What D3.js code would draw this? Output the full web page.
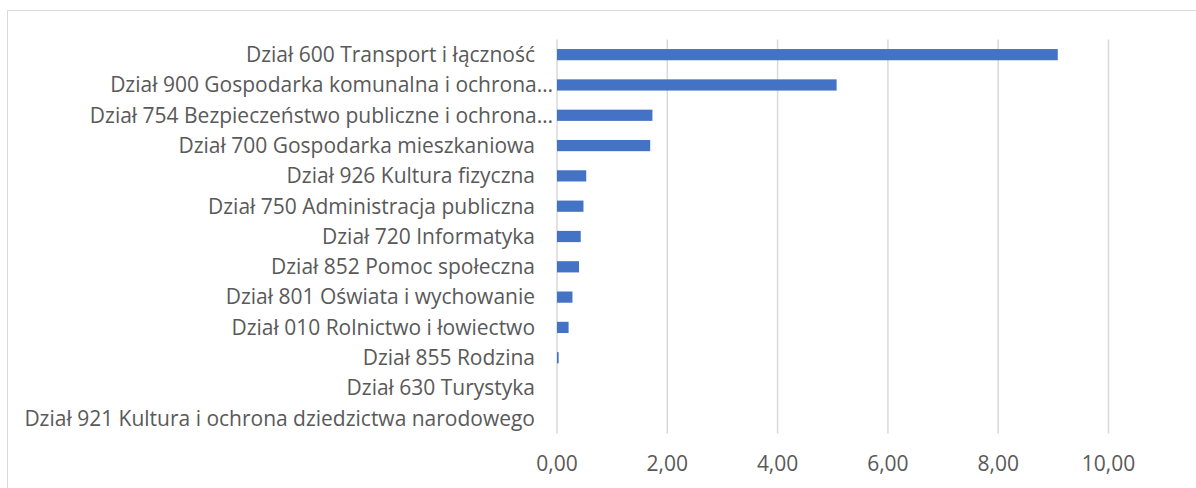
<!DOCTYPE html>
<html lang="pl">
<head>
    <meta charset="UTF-8">
    <title>Wydatki wg działów</title>
    <script src="https://d3js.org/d3.v7.min.js"></script>
    <style>
        body { margin: 0; background: #fff; }
        svg text { font-family: "Open Sans", "Noto Sans", sans-serif; fill: #595959; }
    </style>
</head>
<body>
    <div id="chart"></div>
    <script>
        // categories top -> bottom
        const categories = [
            "Dział 600 Transport i łączność",
            "Dział 900 Gospodarka komunalna i ochrona…",
            "Dział 754 Bezpieczeństwo publiczne i ochrona…",
            "Dział 700 Gospodarka mieszkaniowa",
            "Dział 926 Kultura fizyczna",
            "Dział 750 Administracja publiczna",
            "Dział 720 Informatyka",
            "Dział 852 Pomoc społeczna",
            "Dział 801 Oświata i wychowanie",
            "Dział 010 Rolnictwo i łowiectwo",
            "Dział 855 Rodzina",
            "Dział 630 Turystyka",
            "Dział 921 Kultura i ochrona dziedzictwa narodowego"
        ];
        const values = [9.08, 5.07, 1.73, 1.69, 0.53, 0.48, 0.43, 0.40, 0.28, 0.21, 0.03, 0, 0];
        const ticks = [0, 2, 4, 6, 8, 10];

        const W = 1196, H = 488;
        const margin = { top: 39.5, left: 557, right: 87.5, bottom: 54.5 };

        const svg = d3.select("#chart").append("svg")
            .attr("width", W)
            .attr("height", H);

        // chart frame (only left and top edges visible)
        svg.append("path")
            .attr("d", `M7.5,${H} V10.5 H${W}`)
            .attr("fill", "none")
            .attr("stroke", "#d9d9d9")
            .attr("stroke-width", 1);

        const x = d3.scaleLinear()
            .domain([0, 10])
            .range([margin.left, W - margin.right]);

        const y = d3.scaleBand()
            .domain(categories)
            .range([margin.top, H - margin.bottom])
            .paddingInner(0.63)
            .paddingOuter(0.315);

        const fmt = d => d3.format(".2f")(d).replace(".", ",");

        // gridlines
        svg.append("g")
            .selectAll("line")
            .data(ticks)
            .join("line")
            .attr("x1", d => x(d))
            .attr("x2", d => x(d))
            .attr("y1", margin.top)
            .attr("y2", H - margin.bottom)
            .attr("stroke", "#d9d9d9")
            .attr("stroke-width", 1.5);

        // bars
        svg.append("g")
            .selectAll("rect")
            .data(values)
            .join("rect")
            .attr("x", x(0))
            .attr("y", (d, i) => y(categories[i]))
            .attr("width", d => x(d) - x(0))
            .attr("height", y.bandwidth())
            .attr("fill", "#4472c4");

        // category labels
        const labels = svg.append("g")
            .selectAll("text")
            .data(categories)
            .join("text")
            .attr("x", d => d.endsWith("…") ? 553 : 535)
            .attr("y", d => y(d) + y.bandwidth() / 2)
            .attr("dy", "0.35em")
            .attr("text-anchor", "end")
            .style("font-size", "18px")
            .text(d => d);

        // fit font so the longest label spans the same width as in the source (~511px)
        const longest = d3.max(labels.nodes(), n => n.getComputedTextLength());
        const fs = 18 * 511 / longest;
        labels.style("font-size", fs + "px");

        // x tick labels
        svg.append("g")
            .selectAll("text")
            .data(ticks)
            .join("text")
            .attr("x", d => x(d))
            .attr("y", 464)
            .attr("dy", "0.35em")
            .attr("text-anchor", "middle")
            .style("font-size", fs + "px")
            .text(fmt);
    </script>
</body>
</html>
